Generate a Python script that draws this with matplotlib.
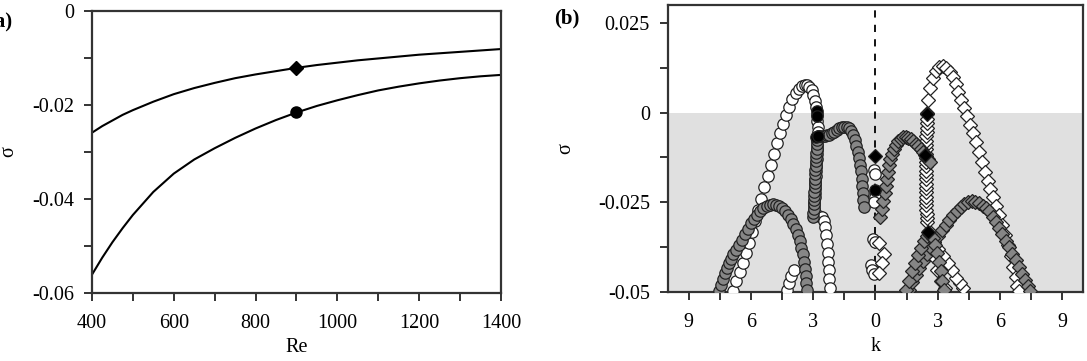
import numpy as np
import matplotlib
matplotlib.use("Agg")
import matplotlib.pyplot as plt

plt.rcParams['font.family'] = ['Liberation Serif', 'DejaVu Serif']

# ---- panel (a): decay rate vs Re ----
re_vals = [400, 425, 450, 475, 500, 550, 600, 650, 700, 750, 800, 850, 900,
           950, 1000, 1050, 1100, 1150, 1200, 1250, 1300, 1350, 1400]
sigma_upper = [-0.0259, -0.0245, -0.0233, -0.0221, -0.0211, -0.0193, -0.0177,
               -0.0164, -0.0153, -0.0143, -0.0135, -0.0128, -0.0121, -0.0115,
               -0.0110, -0.0105, -0.0101, -0.0097, -0.0093, -0.0090, -0.0087,
               -0.0084, -0.0081]
sigma_lower = [-0.0561, -0.0525, -0.0492, -0.0462, -0.0434, -0.0385, -0.0346,
               -0.0316, -0.0292, -0.0270, -0.0250, -0.0232, -0.0216, -0.0202,
               -0.0190, -0.0179, -0.0169, -0.0161, -0.0154, -0.0148, -0.0143,
               -0.0139, -0.0136]
re_mark = 900
sigma_mark_diamond = -0.0121
sigma_mark_circle = -0.0216

# ---- panel (b): spectra, k < 0 circles, k > 0 diamonds ----
white_circles = [
    (-6.88, -0.0497), (-6.72, -0.0470), (-6.55, -0.0445), (-6.40, -0.0418),
    (-6.25, -0.0390), (-6.10, -0.0362), (-5.95, -0.0333), (-5.80, -0.0303),
    (-5.65, -0.0272), (-5.50, -0.0240), (-5.35, -0.0208), (-5.20, -0.0176),
    (-5.05, -0.0145), (-4.90, -0.0115), (-4.75, -0.0086), (-4.60, -0.0058),
    (-4.45, -0.0031), (-4.30, -0.0006), (-4.15, 0.0017), (-4.00, 0.0037),
    (-3.85, 0.0054), (-3.70, 0.0067), (-3.55, 0.0075), (-3.42, 0.0078),
    (-3.30, 0.0077), (-3.18, 0.0072), (-3.08, 0.0062), (-3.00, 0.0048),
    (-2.93, 0.0032), (-2.87, 0.0015), (-2.83, -0.0003), (-2.80, -0.0022),
    (-2.78, -0.0040), (-2.78, -0.0055), (-2.79, -0.0068), (-2.80, -0.0080),
    (-2.81, -0.0092), (-2.82, -0.0104), (-2.83, -0.0116), (-2.84, -0.0128),
    (-2.85, -0.0140), (-2.86, -0.0152), (-2.87, -0.0164), (-2.88, -0.0176),
    (-2.89, -0.0188), (-2.90, -0.0200), (-2.91, -0.0212), (-2.92, -0.0224),
    (-2.93, -0.0236), (-2.94, -0.0248), (-2.94, -0.0260), (-2.95, -0.0272),
    (-2.85, -0.0284), (-2.72, -0.0289), (-2.60, -0.0292), (-2.50, -0.0302),
    (-2.42, -0.0318), (-2.36, -0.0340), (-2.32, -0.0365), (-2.29, -0.0390),
    (-2.27, -0.0415), (-2.25, -0.0440), (-2.22, -0.0465), (-2.17, -0.0490),
    (-4.25, -0.0495), (-4.15, -0.0475), (-4.05, -0.0455), (-3.95, -0.0438),
    (-0.08, -0.0160), (-0.03, -0.0172), (0.00, -0.0235), (-0.05, -0.0248),
    (-0.12, -0.0352), (-0.02, -0.0360), (-0.22, -0.0425), (-0.15, -0.0438),
    (-0.05, -0.0450),
]
gray_circles = [
    (-7.55, -0.0497), (-7.45, -0.0480), (-7.35, -0.0464), (-7.25, -0.0448),
    (-7.15, -0.0434), (-7.05, -0.0420), (-6.95, -0.0407), (-6.85, -0.0395),
    (-6.72, -0.0383), (-6.60, -0.0370), (-6.45, -0.0354), (-6.30, -0.0338),
    (-6.15, -0.0323), (-6.00, -0.0309), (-5.85, -0.0296), (-5.70, -0.0284),
    (-5.55, -0.0274), (-5.40, -0.0266), (-5.25, -0.0260), (-5.10, -0.0257),
    (-4.95, -0.0256), (-4.80, -0.0257), (-4.65, -0.0260), (-4.50, -0.0266),
    (-4.35, -0.0274), (-4.20, -0.0284), (-4.08, -0.0296), (-3.96, -0.0310),
    (-3.85, -0.0325), (-3.75, -0.0341), (-3.66, -0.0358), (-3.58, -0.0376),
    (-3.51, -0.0395), (-3.45, -0.0415), (-3.40, -0.0435), (-3.36, -0.0455),
    (-3.33, -0.0476), (-3.30, -0.0495),
    (-3.03, -0.0292), (-3.00, -0.0280), (-2.98, -0.0268), (-2.97, -0.0256),
    (-2.96, -0.0244), (-2.95, -0.0232), (-2.94, -0.0220), (-2.93, -0.0208),
    (-2.92, -0.0196), (-2.91, -0.0184), (-2.90, -0.0172), (-2.89, -0.0160),
    (-2.88, -0.0148), (-2.87, -0.0136), (-2.86, -0.0124), (-2.85, -0.0112),
    (-2.84, -0.0100), (-2.83, -0.0088), (-2.82, -0.0076), (-2.76, -0.0066),
    (-2.66, -0.0064), (-2.55, -0.0064), (-2.44, -0.0064), (-2.33, -0.0063),
    (-2.22, -0.0061), (-2.10, -0.0058), (-1.98, -0.0054), (-1.86, -0.0049),
    (-1.74, -0.0044), (-1.62, -0.0041), (-1.50, -0.0039), (-1.38, -0.0040),
    (-1.27, -0.0044), (-1.17, -0.0051), (-1.08, -0.0062), (-1.00, -0.0076),
    (-0.93, -0.0092), (-0.86, -0.0109), (-0.80, -0.0127), (-0.74, -0.0145),
    (-0.69, -0.0164), (-0.66, -0.0184), (-0.64, -0.0204), (-0.62, -0.0224),
    (-0.60, -0.0244), (-0.55, -0.0262),
]
black_circles = [(-2.82, 0.0005), (-2.80, -0.0010), (-2.85, -0.0068),
                 (-2.78, -0.0066), (0.00, -0.0216)]

white_diamonds = [
    (4.20, -0.0490), (4.05, -0.0475), (3.90, -0.0460), (3.70, -0.0440),
    (3.50, -0.0420), (3.25, -0.0400), (3.00, -0.0380), (2.80, -0.0360),
    (2.60, -0.0330), (2.48, -0.0306), (2.47, -0.0294), (2.46, -0.0282),
    (2.45, -0.0270), (2.44, -0.0258), (2.43, -0.0246), (2.43, -0.0234),
    (2.42, -0.0222), (2.42, -0.0210), (2.42, -0.0198), (2.42, -0.0186),
    (2.42, -0.0174), (2.42, -0.0162), (2.42, -0.0150), (2.43, -0.0138),
    (2.43, -0.0126), (2.43, -0.0114), (2.44, -0.0102), (2.44, -0.0090),
    (2.45, -0.0078), (2.45, -0.0066), (2.46, -0.0054), (2.46, -0.0042),
    (2.47, -0.0030), (2.47, -0.0018), (2.48, 0.0000), (2.55, 0.0035),
    (2.65, 0.0068), (2.78, 0.0096), (2.92, 0.0115), (3.08, 0.0126),
    (3.25, 0.0129), (3.42, 0.0125), (3.58, 0.0113), (3.72, 0.0099),
    (3.86, 0.0080), (4.00, 0.0058), (4.14, 0.0035), (4.28, 0.0012),
    (4.42, -0.0010), (4.56, -0.0034), (4.70, -0.0058), (4.84, -0.0083),
    (4.98, -0.0110), (5.12, -0.0137), (5.26, -0.0165), (5.40, -0.0190),
    (5.54, -0.0212), (5.68, -0.0236), (5.82, -0.0260), (5.96, -0.0286),
    (6.10, -0.0313), (6.24, -0.0341), (6.38, -0.0370), (6.52, -0.0400),
    (6.64, -0.0430), (6.75, -0.0458), (6.84, -0.0482), (6.90, -0.0497),
    (2.75, -0.0400), (2.95, -0.0440), (3.15, -0.0470), (3.37, -0.0490),
    (0.18, -0.0362), (0.42, -0.0395), (0.30, -0.0420), (0.15, -0.0448),
]
gray_diamonds = [
    (1.60, -0.0495), (1.78, -0.0472), (1.95, -0.0452), (2.12, -0.0432),
    (2.30, -0.0413), (2.48, -0.0395), (2.66, -0.0377), (2.84, -0.0360),
    (3.02, -0.0343), (3.20, -0.0327), (3.38, -0.0312), (3.56, -0.0298),
    (3.74, -0.0285), (3.92, -0.0273), (4.10, -0.0262), (4.28, -0.0254),
    (4.46, -0.0249), (4.64, -0.0247), (4.82, -0.0248), (5.00, -0.0252),
    (5.16, -0.0259), (5.32, -0.0266), (5.48, -0.0274), (5.64, -0.0290),
    (5.80, -0.0306), (5.96, -0.0322), (6.12, -0.0339), (6.28, -0.0357),
    (6.44, -0.0375), (6.60, -0.0393), (6.76, -0.0412), (6.92, -0.0430),
    (7.08, -0.0449), (7.22, -0.0466), (7.36, -0.0483), (7.46, -0.0497),
    (0.22, -0.0290), (0.30, -0.0268), (0.38, -0.0246), (0.45, -0.0225),
    (0.50, -0.0204), (0.54, -0.0184), (0.58, -0.0165), (0.63, -0.0147),
    (0.70, -0.0130), (0.78, -0.0115), (0.88, -0.0101), (0.99, -0.0089),
    (1.10, -0.0080), (1.22, -0.0073), (1.34, -0.0069), (1.46, -0.0068),
    (1.58, -0.0070), (1.70, -0.0074), (1.82, -0.0080), (1.94, -0.0087),
    (2.06, -0.0094), (2.18, -0.0102), (2.30, -0.0111), (2.42, -0.0120),
    (2.54, -0.0130), (2.62, -0.0138),
    (1.45, -0.0495), (1.60, -0.0468), (1.75, -0.0442), (1.90, -0.0418),
    (2.05, -0.0396), (2.20, -0.0376), (2.35, -0.0358), (2.50, -0.0345),
    (2.62, -0.0340), (2.75, -0.0350), (2.85, -0.0368), (2.95, -0.0390),
    (3.05, -0.0415), (3.15, -0.0442), (3.22, -0.0470), (3.28, -0.0495),
]
black_diamonds = [(0.00, -0.0121), (2.55, -0.0333), (2.50, -0.0005),
                  (2.40, -0.0118)]

k_ticks = [-9, -6, -3, 0, 3, 6, 9]

fig = plt.figure(figsize=(10.87, 3.61), dpi=100)
ax1 = fig.add_axes([0.0846, 0.1884, 0.3763, 0.7812])
ax2 = fig.add_axes([0.6145, 0.1911, 0.3818, 0.7950])

FS = 14.5
SPINE = '#333333'

for ax in (ax1, ax2):
    for sp in ax.spines.values():
        sp.set_linewidth(1.6)
        sp.set_color(SPINE)
    ax.tick_params(which='both', direction='out', width=1.4, color=SPINE,
                   labelsize=FS, top=False, right=False, length=6)
    ax.tick_params(axis='x', which='major', pad=9)
    ax.tick_params(axis='y', which='major', pad=7)

# panel (a)
ax1.plot(re_vals, sigma_upper, color='black', lw=1.5)
ax1.plot(re_vals, sigma_lower, color='black', lw=1.5)
ax1.plot([re_mark], [sigma_mark_diamond], marker='D', ms=7, color='black')
ax1.plot([re_mark], [sigma_mark_circle], marker='o', ms=8, color='black')
ax1.set_xlim(400, 1400)
ax1.set_ylim(-0.06, 0)
ax1.set_xticks(range(400, 1401, 200))
ax1.set_xticks(range(400, 1401, 100), minor=True)
ax1.set_yticks([0, -0.02, -0.04, -0.06])
ax1.set_yticklabels(['0', '-0.02', '-0.04', '-0.06'])
ax1.set_yticks([-0.01, -0.03, -0.05], minor=True)
ax1.set_xlabel('Re', fontsize=FS, labelpad=4)
ax1.set_ylabel('σ', fontsize=FS, labelpad=10)
fig.text(-0.011, 0.925, '(a)', fontsize=15, fontweight='bold', ha='left')

# panel (b)
ax2.axhspan(-0.05, 0, color='#e0e0e0', zorder=0, lw=0)
ax2.axvline(0, color='black', lw=1.3, ls=(0, (4, 4)), zorder=1)


def scatter(ax, pts, marker, face, ms):
    arr = np.array(pts)
    ax.plot(arr[:, 0], arr[:, 1], ls='none', marker=marker, ms=ms,
            mfc=face, mec='#222222', mew=0.9, zorder=3)


scatter(ax2, white_circles, 'o', 'white', 8.2)
scatter(ax2, white_diamonds, 'D', 'white', 7.2)
scatter(ax2, gray_circles, 'o', '#868686', 8.2)
scatter(ax2, gray_diamonds, 'D', '#868686', 7.2)
scatter(ax2, black_circles, 'o', 'black', 8.2)
scatter(ax2, black_diamonds, 'D', 'black', 7.2)

ax2.set_xlim(-10, 10)
ax2.set_ylim(-0.05, 0.03)
ax2.set_xticks(k_ticks)
ax2.set_xticklabels([str(abs(v)) for v in k_ticks])
ax2.set_xticks([-7.5, -4.5, -1.5, 1.5, 4.5, 7.5], minor=True)
ax2.set_yticks([0.025, 0, -0.025, -0.05])
ax2.set_yticklabels(['0.025', '0', '-0.025', '-0.05'])
ax2.set_yticks([0.0125, -0.0125, -0.0375], minor=True)
ax2.set_xlabel('k', fontsize=FS, labelpad=4)
ax2.set_ylabel('σ', fontsize=FS, labelpad=16)
fig.text(0.510, 0.935, '(b)', fontsize=15, fontweight='bold', ha='left')

fig.savefig('out.png', dpi=100)
